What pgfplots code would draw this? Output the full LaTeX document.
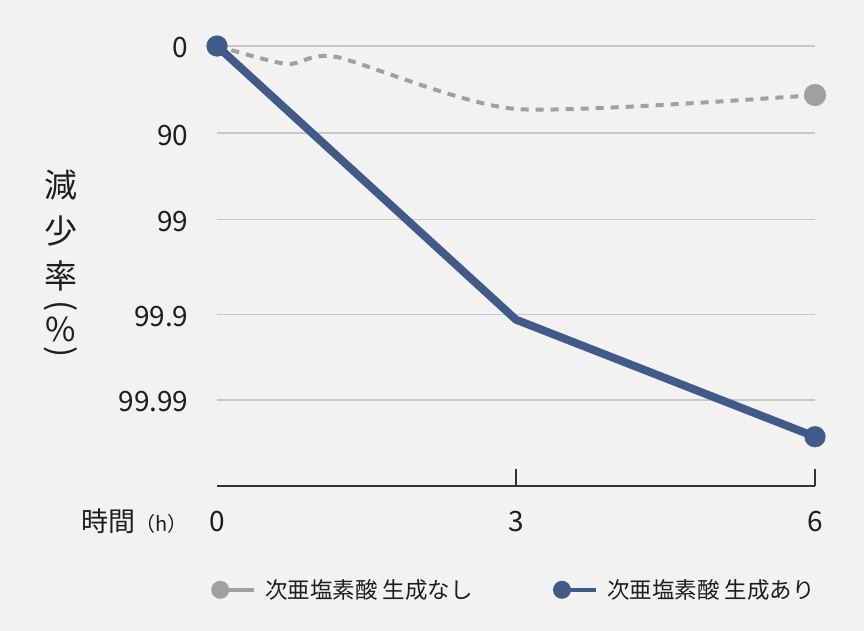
\documentclass[border=0pt]{standalone}
\usepackage{fontspec}
\setmainfont{Noto Sans CJK JP}
\usepackage{pgfplots}
\pgfplotsset{compat=1.18}

\definecolor{bgc}{HTML}{F2F2F2}
\definecolor{gridc}{HTML}{C8C8C8}
\definecolor{axc}{HTML}{333333}
\definecolor{txtc}{HTML}{1E1E1E}
\definecolor{serg}{HTML}{A0A0A0}
\definecolor{serb}{HTML}{405A8A}

% log reduction: 0 -> 0 %, 1 -> 90 %, 2 -> 99 %, ...
\pgfplotstableread{
x y
0 0
0.7 -0.205
1.2 -0.125
3 -0.716
6 -0.557
}\nogen

\pgfplotstableread{
x y
0 0
3 -3.11
6 -4.44
}\gen

\begin{document}
\begin{tikzpicture}
\fill[bgc] (0,0) rectangle (864bp,631bp);
\begin{axis}[
    at={(217bp,145bp)}, anchor=south west,
    scale only axis, width=598bp, height=440bp,
    xmin=0, xmax=6, ymin=-5, ymax=0,
    clip=false,
    axis x line*=bottom, axis y line*=left,
    y axis line style={draw=none},
    x axis line style={draw=axc, line width=1.5bp},
    xtick={3,6},
    extra x ticks={0},
    extra x tick labels={0},
    extra x tick style={major tick length=0pt},
    tick align=inside,
    major tick length=17bp,
    xtick style={draw=axc, line width=1.5bp},
    ytick style={draw=none},
    ytick={0,-0.99,-1.97,-3.05,-4.02},
    yticklabels={0,90,99,99.9,99.99},
    ymajorgrids,
    grid style={draw=gridc, line width=1.5bp},
    /pgf/number format/assume math mode=true,
    ticklabel style={font=\fontsize{28bp}{32bp}\selectfont, text=txtc},
    xticklabel style={yshift=-22bp},
    yticklabel style={xshift=-25bp, yshift=-2bp},
    legend style={at={(axis description cs:-0.01,-0.236)}, anchor=west,
        draw=none, fill=none, inner sep=0pt,
        font=\fontsize{22.5bp}{26bp}\selectfont, text=txtc,
        legend columns=2,
        /tikz/every odd column/.append style={column sep=7bp},
        /tikz/every even column/.append style={column sep=78bp}},
    legend cell align=left,
]
\addplot[serg, line width=4bp, dash pattern=on 8bp off 7bp, smooth, tension=0.4,
    mark=*, mark indices={5}, mark size=11bp,
    mark options={solid, line width=0.1bp, fill=serg},
    legend image code/.code={
        \draw[solid, line width=4.5bp, serg] (0bp,0bp) -- (34bp,0bp);
        \fill[solid, draw=none, serg] (0bp,0bp) circle (9bp);}
] table[x=x, y=y] {\nogen};
\addlegendentry{次亜塩素酸 生成なし}
\addplot[serb, line width=8bp, line join=round,
    mark=*, mark indices={1,3}, mark size=10.5bp,
    mark options={solid, line width=0.1bp, fill=serb},
    legend image code/.code={
        \draw[solid, line width=4.5bp, serb] (0bp,0bp) -- (34bp,0bp);
        \fill[solid, draw=none, serb] (0bp,0bp) circle (9bp);}
] table[x=x, y=y] {\gen};
\addlegendentry{次亜塩素酸 生成あり}
\end{axis}
% axis titles
\node[anchor=base east, inner sep=0pt, text=txtc] at (188bp,99bp)
    {\fontsize{27bp}{30bp}\selectfont 時間\fontsize{20bp}{22bp}\selectfont （h）};
\begin{scope}[every node/.style={inner sep=0pt, text=txtc, font=\fontsize{33bp}{36bp}\selectfont}]
\node at (61bp,446bp) {減};
\node at (61bp,400bp) {少};
\node at (61bp,355bp) {率};
\node[rotate=-90] at (61bp,325bp) {(};
\node at (61bp,302bp) {\%};
\node[rotate=-90] at (61bp,279bp) {)};
\end{scope}
\end{tikzpicture}
\end{document}
